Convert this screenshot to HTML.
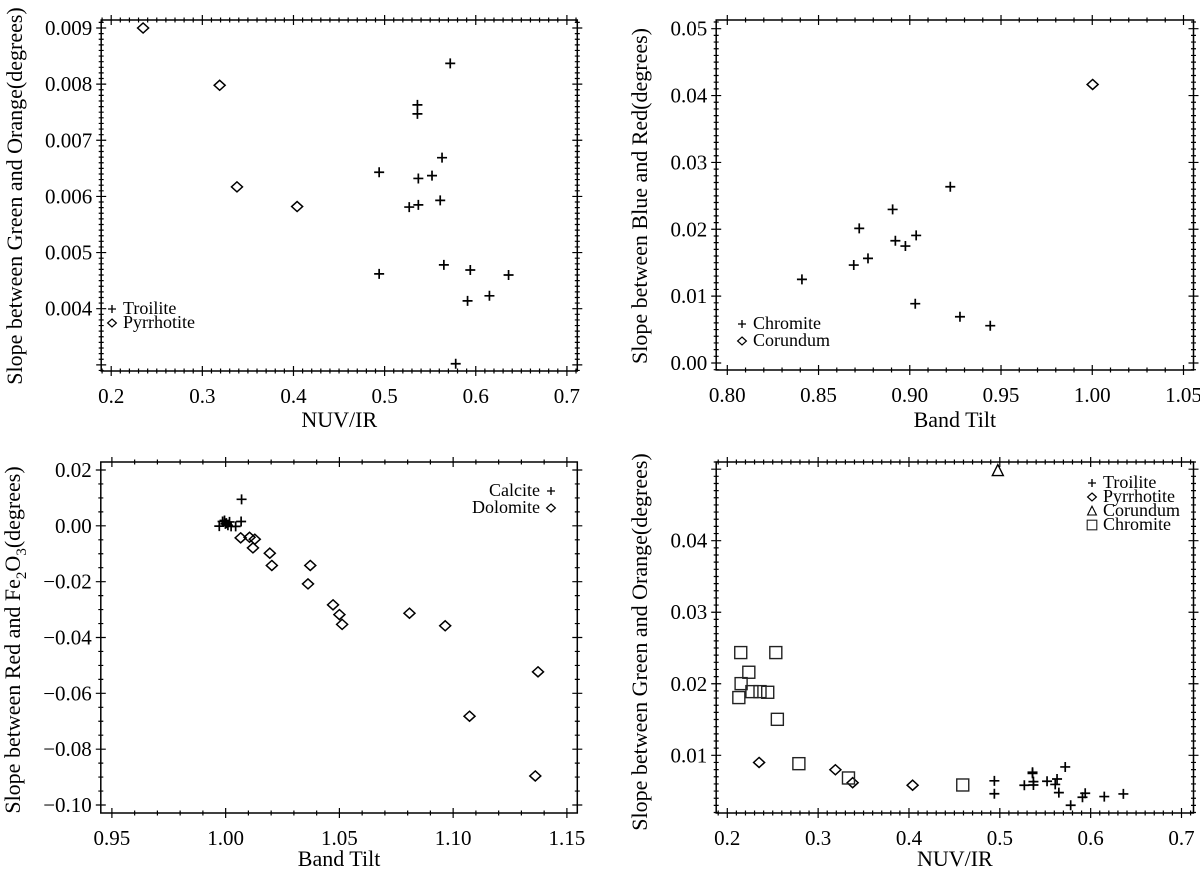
<!DOCTYPE html>
<html><head><meta charset="utf-8">
<style>
html,body{margin:0;padding:0;background:#fff;}
svg{display:block;font-family:"Liberation Serif",serif;}
</style></head>
<body>
<svg id="fig" width="1200" height="870" viewBox="0 0 1200 870" xmlns="http://www.w3.org/2000/svg"></svg>
<script>
// ---- data ----
const troiliteX = [0.572,0.536,0.536,0.563,0.494,0.537,0.552,0.561,0.537,0.527,0.565,0.594,0.494,0.636,0.615,0.591,0.578];
const troiliteY = [0.00837,0.00763,0.00747,0.00669,0.00643,0.00632,0.00637,0.00593,0.00585,0.00581,0.00478,0.00469,0.00462,0.00460,0.00423,0.00414,0.00302];
const pyrrhotiteX = [0.235,0.319,0.338,0.404];
const pyrrhotiteY = [0.00900,0.00798,0.00617,0.00582];
const chromiteTiltX = [0.8409,0.8693,0.8771,0.8723,0.8906,0.8921,0.8976,0.9035,0.9222,0.9030,0.9275,0.9441];
const chromiteTiltY = [0.01251,0.01465,0.01565,0.02013,0.02297,0.01828,0.01749,0.01908,0.02636,0.00887,0.00692,0.00558];
const corundumTiltX = [1.0002];
const corundumTiltY = [0.04166];
const calciteX = [1.0070,0.9972,0.99865,0.9995,1.0003,1.0010,1.0017,1.0024,0.9999,1.0068,1.0044];
const calciteY = [0.0095,-0.0001,0.00155,0.0019,0.00096,0.0002,0.0014,-0.0002,0.0007,0.00155,-0.0002];
const dolomiteX = [1.0066,1.0105,1.0128,1.0120,1.0194,1.0203,1.0372,1.0362,1.0472,1.0500,1.0512,1.0808,1.0965,1.1373,1.1072,1.1361];
const dolomiteY = [-0.0043,-0.0041,-0.0048,-0.0079,-0.0098,-0.0142,-0.0142,-0.0208,-0.0283,-0.0318,-0.0353,-0.0313,-0.0358,-0.0523,-0.0682,-0.0896];
const chromiteNuvX = [0.2148,0.2534,0.2237,0.2152,0.2271,0.2360,0.2445,0.2127,0.2551,0.2788,0.3334,0.4592];
const chromiteNuvY = [0.02436,0.02436,0.02161,0.02002,0.01890,0.01890,0.01881,0.01807,0.01503,0.00883,0.00683,0.00585];
const corundumNuvX = [0.4978];
const corundumNuvY = [0.0498];
const ticks1X = ["0.2","0.3","0.4","0.5","0.6","0.7"];
const ticks1Y = ["0.004","0.005","0.006","0.007","0.008","0.009"];
const ticks2X = ["0.80","0.85","0.90","0.95","1.00","1.05"];
const ticks2Y = ["0.00","0.01","0.02","0.03","0.04","0.05"];
const ticks3X = ["0.95","1.00","1.05","1.10","1.15"];
const ticks3Y = ["0.02","0.00","\u22120.02","\u22120.04","\u22120.06","\u22120.08","\u22120.10"];
const ticks4X = ["0.2","0.3","0.4","0.5","0.6","0.7"];
const ticks4Y = ["0.01","0.02","0.03","0.04"];

const NS="http://www.w3.org/2000/svg";
const svg=document.getElementById('fig');
function mk(tag,attrs,parent){const e=document.createElementNS(NS,tag);for(const k in attrs)e.setAttribute(k,attrs[k]);(parent||svg).appendChild(e);return e;}
function num(s){return parseFloat(String(s).replace('\u2212','-'));}

function marker(g,type,cx,cy){
  let e;
  if(type==='plus'){e=mk('path',{d:`M${cx-5},${cy}H${cx+5}M${cx},${cy-5}V${cy+5}`,stroke:'#000','stroke-width':1.7,fill:'none'},g);}
  else if(type==='diamond'){e=mk('path',{d:`M${cx},${cy-5}L${cx+5.5},${cy}L${cx},${cy+5}L${cx-5.5},${cy}Z`,stroke:'#000','stroke-width':1.5,fill:'none'},g);}
  else if(type==='square'){e=mk('rect',{x:cx-6,y:cy-6,width:12,height:12,stroke:'#222','stroke-width':1.4,fill:'none'},g);}
  else {e=mk('path',{d:`M${cx},${cy-6}L${cx+5.5},${cy+5}L${cx-5.5},${cy+5}Z`,stroke:'#000','stroke-width':1.4,fill:'none'},g);}
  return e;
}

function panel(p){
  const g=mk('g',{});
  
  
  const sx=v=>p.xp0+(v-p.xv0)*(p.xp1-p.xp0)/(p.xv1-p.xv0);
  const sy=v=>p.yp0+(v-p.yv0)*(p.yp1-p.yp0)/(p.yv1-p.yv0);
  const frame=mk('rect',{x:p.L,y:p.T,width:p.R-p.L,height:p.B-p.T,fill:'none',stroke:'#000','stroke-width':1.5},g);
  
  
  let d='';
  const xs=num(p.xt[0]), xstep=num(p.xt[1])-num(p.xt[0]);
  for(let i=-20;i<=200;i++){
    const v=xs+(i-p.xm)*xstep/p.xm;
    const x=sx(v); if(x<p.L-0.5||x>p.R+0.5) continue;
    const major=(i%p.xm)===0;
    const l=major?5:2.5;
    d+=`M${x},${p.B-l}V${p.B+l}M${x},${p.T-l}V${p.T+l}`;
  }
  const ys=num(p.yt[0]), ystep=num(p.yt[1])-num(p.yt[0]);
  const yMin=Math.min(p.yb,p.yt2), yMax=Math.max(p.yb,p.yt2);
  for(let i=-40;i<=200;i++){
    const v=ys+i*ystep/p.ym;
    if(v<yMin-1e-9||v>yMax+1e-9) continue;
    const y=sy(v);
    const major=((i%p.ym)+p.ym)%p.ym===0;
    const l=major?5:2.5;
    d+=`M${p.L-l},${y}H${p.L+l}M${p.R-l},${y}H${p.R+l}`;
  }
  const tk=mk('path',{d:d,stroke:'#000','stroke-width':1.2,fill:'none'},g);
  
  
  p.xt.forEach(t=>{
    const e=mk('text',{x:sx(num(t)),y:p.B+32,'text-anchor':'middle','font-size':21},g);
    e.textContent=t;
    
    
  });
  p.yt.forEach(t=>{
    const e=mk('text',{x:p.L-9,y:sy(num(t))+7,'text-anchor':'end','font-size':21},g);
    e.textContent=t;
    
    
  });
  const xl=mk('text',{x:(p.L+p.R)/2,y:p.xly,'text-anchor':'middle','font-size':22},g);
  xl.textContent=p.xlabel;
  
  
  const yl=mk('text',{x:0,y:0,'text-anchor':'middle','font-size':22,transform:`translate(${p.ylx},${p.yly}) rotate(-90)`},g);
  if(p.ylabelHTML){yl.innerHTML=p.ylabelHTML;}else{yl.textContent=p.ylabel;}
  
  
  p.series.forEach(s=>{
    const sg=mk('g',{},g);
    
    
    s.x.forEach((xv,i)=>{
      const m=marker(sg,s.type,sx(xv),sy(s.y[i]));
      
      
    });
  });
  const lg=mk('g',{},g);
  
  
  p.series.forEach((s,i)=>{
    const y=p.lgy+i*p.lgdy;
    const eg=mk('g',{},lg);
    
    
    const sc=mk('g',{transform:`translate(${p.lgx},${y}) scale(0.8) translate(${-p.lgx},${-y})`},eg);
    marker(sc,s.type,p.lgx,y);
    const t=p.lgRight?mk('text',{x:p.lgx-11,y:y+5,'text-anchor':'end','font-size':18},eg)
                     :mk('text',{x:p.lgx+11,y:y+5,'font-size':18},eg);
    t.textContent=s.label;
  });
}

panel({name:'panel-troilite-pyrrhotite',L:101.2,R:577.3,T:20,B:371,
  xv0:0.2,xv1:0.7,xp0:111.2,xp1:566.9,yv0:0.009,yv1:0.004,yp0:28,yp1:308.7,
  xt:ticks1X,yt:ticks1Y,xm:10,ym:10,yb:0.0029,yt2:0.0091,
  xlabel:'NUV/IR',xly:427,ylabel:'Slope between Green and Orange(degrees)',ylx:22,yly:196,
  series:[{label:'Troilite',type:'plus',x:troiliteX,y:troiliteY},{label:'Pyrrhotite',type:'diamond',x:pyrrhotiteX,y:pyrrhotiteY}],
  lgx:112,lgy:309,lgdy:14});

panel({name:'panel-chromite-corundum',L:716.2,R:1193.5,T:20,B:370,
  xv0:0.80,xv1:1.05,xp0:727.3,xp1:1183.5,yv0:0.05,yv1:0.0,yp0:28.7,yp1:363,
  xt:ticks2X,yt:ticks2Y,xm:5,ym:10,yb:-0.001,yt2:0.0518,
  xlabel:'Band Tilt',xly:427,ylabel:'Slope between Blue and Red(degrees)',ylx:647,yly:196,
  series:[{label:'Chromite',type:'plus',x:chromiteTiltX,y:chromiteTiltY},{label:'Corundum',type:'diamond',x:corundumTiltX,y:corundumTiltY}],
  lgx:742,lgy:324,lgdy:17});

panel({name:'panel-calcite-dolomite',L:100.8,R:577.3,T:462,B:813,
  xv0:0.95,xv1:1.15,xp0:111.9,xp1:566.9,yv0:0.02,yv1:-0.10,yp0:470,yp1:805,
  xt:ticks3X,yt:ticks3Y,xm:5,ym:4,yb:-0.103,yt2:0.023,
  xlabel:'Band Tilt',xly:866,ylabelHTML:'Slope between Red and Fe<tspan font-size="15" dy="6">2</tspan><tspan dy="-6">O</tspan><tspan font-size="15" dy="6">3</tspan><tspan dy="-6">(degrees)</tspan>',ylx:20,yly:640,
  series:[{label:'Calcite',type:'plus',x:calciteX,y:calciteY},{label:'Dolomite',type:'diamond',x:dolomiteX,y:dolomiteY}],
  lgx:551,lgy:491,lgdy:17,lgRight:true});

panel({name:'panel-all-minerals',L:716.2,R:1193.5,T:462,B:813,
  xv0:0.2,xv1:0.7,xp0:727.3,xp1:1181.5,yv0:0.04,yv1:0.01,yp0:540.7,yp1:755.3,
  xt:ticks4X,yt:ticks4Y,xm:10,ym:10,yb:0.0017,yt2:0.0511,
  xlabel:'NUV/IR',xly:866,ylabel:'Slope between Green and Orange(degrees)',ylx:647,yly:642,
  series:[{label:'Troilite',type:'plus',x:troiliteX,y:troiliteY},{label:'Pyrrhotite',type:'diamond',x:pyrrhotiteX,y:pyrrhotiteY},
          {label:'Corundum',type:'triangle',x:corundumNuvX,y:corundumNuvY},{label:'Chromite',type:'square',x:chromiteNuvX,y:chromiteNuvY}],
  lgx:1092,lgy:483,lgdy:14});
</script>
</body></html>
